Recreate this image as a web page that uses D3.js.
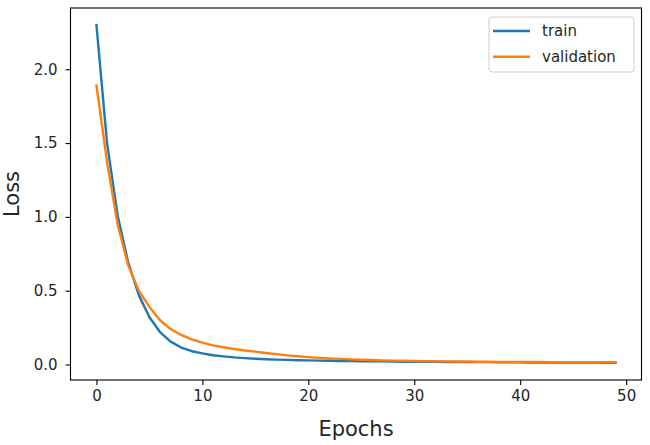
<!DOCTYPE html>
<html>
<head>
<meta charset="utf-8">
<script src="https://cdn.jsdelivr.net/npm/d3@7"></script>
<style>
  body { margin: 0; background: #fff; }
  svg { display: block; font-family: "DejaVu Sans", sans-serif; }
</style>
</head>
<body>
<svg></svg>
<script>
const epochs = d3.range(50);

const trainLoss = [2.30, 1.50, 1.01, 0.69, 0.47, 0.32, 0.22, 0.155, 0.115, 0.09,
  0.075, 0.063, 0.055, 0.048, 0.043, 0.039, 0.036, 0.033, 0.031, 0.029,
  0.028, 0.026, 0.025, 0.024, 0.023, 0.022, 0.021, 0.021, 0.020, 0.019,
  0.019, 0.018, 0.018, 0.017, 0.017, 0.016, 0.016, 0.016, 0.015, 0.015,
  0.015, 0.014, 0.014, 0.014, 0.013, 0.013, 0.013, 0.013, 0.012, 0.012];

const valLoss = [1.89, 1.37, 0.95, 0.67, 0.50, 0.39, 0.30, 0.24, 0.20, 0.17,
  0.148, 0.13, 0.117, 0.105, 0.095, 0.087, 0.078, 0.070, 0.062, 0.056,
  0.050, 0.045, 0.041, 0.038, 0.035, 0.032, 0.030, 0.028, 0.026, 0.025,
  0.024, 0.023, 0.022, 0.021, 0.020, 0.020, 0.019, 0.019, 0.018, 0.018,
  0.017, 0.017, 0.017, 0.016, 0.016, 0.016, 0.016, 0.015, 0.015, 0.015];

const xTicks = [0, 10, 20, 30, 40, 50];
const yTicks = [0.0, 0.5, 1.0, 1.5, 2.0];

const series = [
  { name: 'train', values: trainLoss, color: '#1f77b4' },
  { name: 'validation', values: valLoss, color: '#ff7f0e' },
];

const width = 650;
const height = 445;
const plotLeft = 70.5, plotRight = 641.5, plotTop = 8, plotBottom = 380;

const svg = d3.select('svg')
  .attr('width', width)
  .attr('height', height);

const xScale = d3.scaleLinear()
  .domain([-2.45, 51.45])
  .range([plotLeft, plotRight]);

const yScale = d3.scaleLinear()
  .domain([-0.105, 2.415])
  .range([plotBottom, plotTop]);

// lines
const line = d3.line()
  .x((d, i) => xScale(epochs[i]))
  .y((d) => yScale(d));

svg.append('g')
  .selectAll('path')
  .data(series)
  .enter()
  .append('path')
    .attr('d', (d) => line(d.values))
    .attr('fill', 'none')
    .attr('stroke', (d) => d.color)
    .attr('stroke-width', 2.4)
    .attr('stroke-linejoin', 'round')
    .attr('stroke-linecap', 'square');

// axes
const xAxis = d3.axisBottom(xScale)
  .tickValues(xTicks)
  .tickFormat(d3.format('d'))
  .tickSize(5)
  .tickPadding(5);

const yAxis = d3.axisLeft(yScale)
  .tickValues(yTicks)
  .tickFormat(d3.format('.1f'))
  .tickSize(5)
  .tickPadding(8);

const gx = svg.append('g')
  .attr('transform', `translate(0,${plotBottom})`)
  .call(xAxis);

const gy = svg.append('g')
  .attr('transform', `translate(${plotLeft},0)`)
  .call(yAxis);

[gx, gy].forEach((g) => {
  g.select('.domain').remove();
  g.selectAll('.tick line').attr('stroke', '#000').attr('stroke-width', 1.1);
  g.selectAll('.tick text')
    .attr('fill', '#262626')
    .style('font-size', '15px')
    .style('font-family', '"DejaVu Sans", sans-serif');
});

// frame
svg.append('rect')
  .attr('x', plotLeft)
  .attr('y', plotTop)
  .attr('width', plotRight - plotLeft)
  .attr('height', plotBottom - plotTop)
  .attr('fill', 'none')
  .attr('stroke', '#000')
  .attr('stroke-width', 1.1);

// axis labels
svg.append('text')
  .attr('x', (plotLeft + plotRight) / 2)
  .attr('y', 436)
  .attr('text-anchor', 'middle')
  .attr('fill', '#262626')
  .style('font-size', '21px')
  .text('Epochs');

svg.append('text')
  .attr('transform', `translate(19,${(plotTop + plotBottom) / 2}) rotate(-90)`)
  .attr('text-anchor', 'middle')
  .attr('fill', '#262626')
  .style('font-size', '21px')
  .text('Loss');

// legend
const legend = svg.append('g');

legend.append('rect')
  .attr('x', 489)
  .attr('y', 17)
  .attr('width', 145)
  .attr('height', 55)
  .attr('rx', 3)
  .attr('fill', '#fff')
  .attr('fill-opacity', 0.8)
  .attr('stroke', '#cccccc')
  .attr('stroke-width', 1);

const items = legend.selectAll('.item')
  .data(series)
  .enter()
  .append('g')
    .attr('class', 'item')
    .attr('transform', (d, i) => `translate(0,${31 + i * 25.7})`);

items.append('line')
  .attr('x1', 493)
  .attr('x2', 530)
  .attr('stroke', (d) => d.color)
  .attr('stroke-width', 2.4);

items.append('text')
  .attr('x', 542)
  .attr('dy', '0.35em')
  .attr('fill', '#262626')
  .style('font-size', '15px')
  .text((d) => d.name);
</script>
</body>
</html>
